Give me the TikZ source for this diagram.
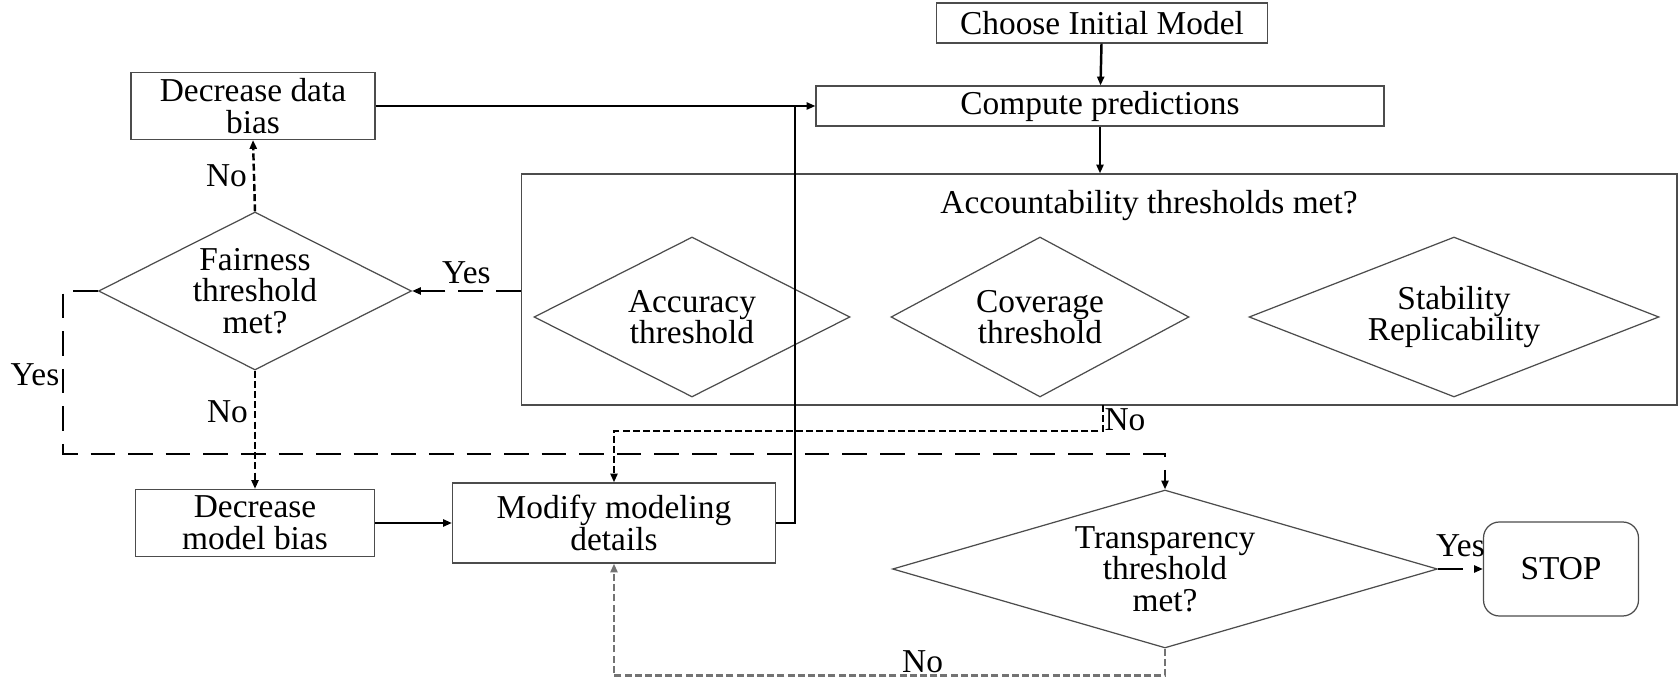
\documentclass[tikz,border=0pt]{standalone}
\usepackage{fontspec}
\setmainfont{Liberation Serif}
\usetikzlibrary{arrows.meta,shapes.geometric}

\begin{document}
\begin{tikzpicture}[x=0.02cm, y=-0.02cm,
  every node/.style={font=\fontsize{19}{18}\selectfont},
  block/.style={rectangle, draw=black!70, line width=0.7pt, align=center, inner sep=2pt},
  decision/.style={diamond, draw=black!70, line width=0.7pt, align=center, inner sep=0pt},
  stopbox/.style={rectangle, rounded corners=9pt, draw=black!70, line width=0.7pt, align=center},
  arr/.style={-{Triangle[length=5pt,width=4pt]}, line width=1.4pt},
  plain/.style={line width=1.4pt},
  yesline/.style={arr, dash pattern=on 14pt off 7.4pt},
  noline/.style={arr, dash pattern=on 4pt off 1.8pt},
]
\useasboundingbox (0,0) rectangle (1680,678);
\node[block, minimum width=6.62cm, minimum height=0.8cm] (choose) at (1102,23) {Choose Initial Model};
\node[block, minimum width=11.36cm, minimum height=0.8cm] (compute) at (1100,106) {Compute predictions};
\node[block, minimum width=4.88cm, minimum height=1.34cm] (databias) at (253,106) {Decrease data\\bias};
\node[block, minimum width=23.12cm, minimum height=4.62cm] (account) at (1099,289.5) {};
\node (acctitle) at (1149,206) {Accountability thresholds met?};
\node[decision, aspect=1.94, minimum width=6.32cm, minimum height=3.2cm] (accuracy) at (692,317) {Accuracy\\threshold};
\node[decision, aspect=1.83, minimum width=5.96cm, minimum height=3.2cm] (coverage) at (1040,317) {Coverage\\threshold};
\node[decision, aspect=2.53, minimum width=8.2cm, minimum height=3.2cm] (stability) at (1454,317) {Stability\\Replicability};
\node[decision, aspect=1.98, minimum width=6.26cm, minimum height=3.16cm] (fairness) at (255,291) {Fairness\\threshold\\met?};
\node[block, minimum width=4.78cm, minimum height=1.34cm] (modelbias) at (255,523) {Decrease\\model bias};
\node[block, minimum width=6.46cm, minimum height=1.6cm] (modify) at (614,523) {Modify modeling\\details};
\node[decision, aspect=3.45, minimum width=10.9cm, minimum height=3.16cm] (transp) at (1165,569) {Transparency\\threshold\\met?};
\node[stopbox, minimum width=3.1cm, minimum height=1.88cm] (stop) at (1561,569) {STOP};
\coordinate (accno) at (1103,405);
\coordinate (yesrow) at (0,454);

\draw[arr] (choose) -- (compute);
\draw[arr] (compute.south) -- (compute.south |- account.north);
\draw[arr] (databias.east) -- (compute.west);
\draw[plain] (modify.east) -- ++(19,0) coordinate (back) -- (back |- compute.west);
\draw[arr] (modelbias.east) -- (modelbias.east -| modify.west);
\draw[yesline] (account.west |- fairness) -- (fairness.east) node[midway, above] (yesfair) {Yes};
\draw[noline] (fairness.north) -- (databias.south) node[midway, left] (nodata) {No};
\draw[noline] (fairness.south) -- (modelbias.north) node[pos=0.35, left] (nomodel) {No};
\draw[yesline] (fairness.west) -- ++(-35,0) |- (yesrow -| transp.north) -- (transp.north);
\node (yesleft) at (35,375) {Yes};
\draw[noline] (accno) -- ++(0,26) -| (modify.north);
\node (noacc) at (1125,420) {No};
\draw[noline, black!55] (transp.south) -- ++(0,27) -| (modify.south) node[pos=0.22, above, inner sep=1pt, black] (notransp) {No};
\draw[yesline] (transp.east) -- (stop.west) node[midway, above, yshift=3pt] (yesstop) {Yes};
\end{tikzpicture}
\end{document}
